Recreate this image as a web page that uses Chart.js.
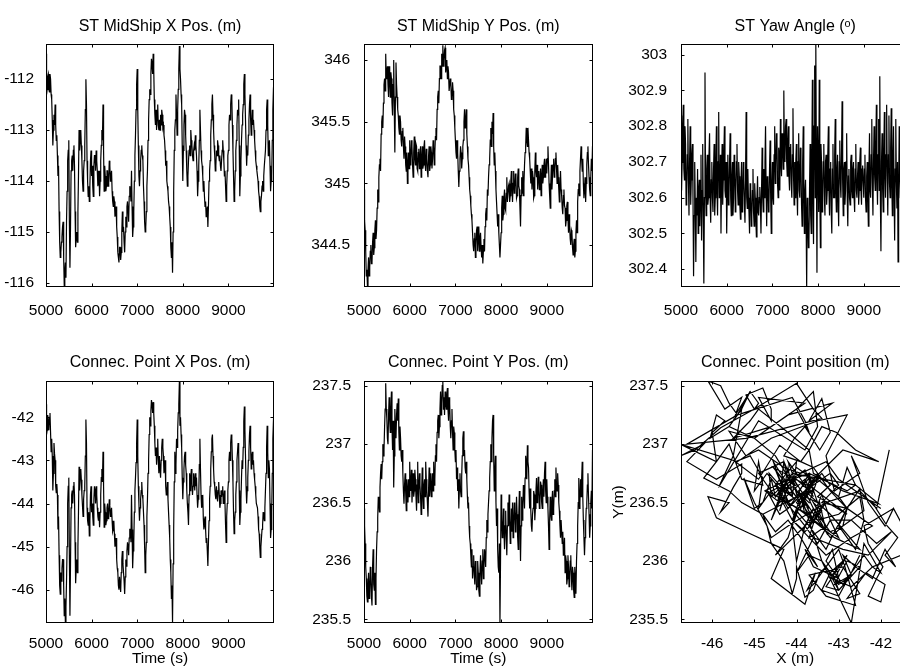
<!DOCTYPE html>
<html>
<head>
<meta charset="utf-8">
<script src="https://cdn.jsdelivr.net/npm/chart.js@4.4.1/dist/chart.umd.min.js"></script>
<style>
  html, body { margin: 0; padding: 0; background: #fff; width: 900px; height: 666px; overflow: hidden; }
  canvas { position: absolute; }
</style>
</head>
<body>
<canvas id="c1" width="300" height="330" style="left:0px;top:0px"></canvas>
<canvas id="c2" width="310" height="330" style="left:304px;top:0px"></canvas>
<canvas id="c3" width="310" height="330" style="left:621px;top:0px"></canvas>
<canvas id="c4" width="300" height="330" style="left:0px;top:340px"></canvas>
<canvas id="c5" width="310" height="330" style="left:304px;top:340px"></canvas>
<canvas id="c6" width="326" height="330" style="left:605px;top:340px"></canvas>
<script>
// Records sampled every 12.5 s from t = 5000 s to t = 10000 s
const T_START = 5000;
const T_STEP = 12.5;

// Ship midship X position (m)
const midShipX = [
  -111.5, -112.3, -112.2, -111.95, -111.9, -112.2, -112.25, -111.9, -112.0, -112.3, -112.4, -112.8, -113.3, -113.0, -112.7, -112.9, -112.5, -112.9, -113.2, -113.1,
  -113.5, -113.9, -113.7, -114.6, -115.2, -115.5, -115.4, -115.2, -115.1, -114.9, -114.8, -115.5, -116.05, -115.8, -115.6, -115.9, -114.8, -114.2, -113.6, -113.4,
  -113.2, -114.8, -115.7, -114.9, -113.8, -113.6, -113.5, -113.8, -113.4, -113.3, -113.7, -114.6, -115.3, -115.1, -115.0, -115.2, -114.6, -113.9, -113.0, -113.4,
  -113.2, -113.0, -113.3, -113.6, -114.0, -114.2, -113.8, -113.6, -113.3, -112.6, -112.0, -112.5, -113.6, -114.0, -114.3, -114.1, -114.4, -114.1, -113.6, -113.4,
  -113.9, -113.7, -114.1, -114.3, -113.7, -113.5, -113.5, -113.8, -113.4, -113.6, -113.8, -114.1, -114.0, -113.8, -114.3, -114.0, -113.6, -113.3, -113.0, -113.2,
  -112.5, -113.4, -114.2, -113.7, -113.9, -114.2, -114.1, -113.8, -113.8, -114.1, -114.0, -113.6, -113.7, -114.0, -113.9, -113.8, -114.2, -114.4, -114.5, -114.3,
  -114.4, -114.7, -114.6, -114.5, -114.9, -115.1, -115.4, -115.5, -115.6, -115.3, -115.3, -115.55, -115.4, -115.0, -114.6, -115.0, -114.9, -115.2, -115.4, -115.0,
  -114.7, -114.9, -114.5, -114.4, -114.6, -114.8, -114.3, -114.1, -114.2, -114.4, -113.8, -114.5, -115.1, -114.9, -114.6, -114.0, -113.5, -113.1, -112.6, -112.1,
  -111.8, -112.6, -113.3, -113.9, -114.1, -113.8, -113.6, -113.4, -113.3, -113.5, -113.6, -114.1, -114.4, -114.8, -115.0, -114.9, -114.6, -114.1, -113.8, -113.2,
  -112.8, -112.4, -112.2, -112.3, -111.9, -111.6, -111.7, -111.9, -111.5, -111.8, -112.4, -112.7, -112.9, -112.6, -113.0, -112.7, -112.5, -112.9, -113.0, -112.8,
  -113.0, -112.7, -112.9, -112.6, -112.7, -112.95, -112.9, -113.1, -113.2, -113.4, -113.7, -113.6, -114.0, -114.1, -114.2, -114.4, -114.5, -114.7, -114.9, -115.3,
  -115.5, -115.2, -115.8, -115.0, -114.2, -113.4, -113.0, -112.8, -112.3, -112.7, -113.1, -112.6, -112.2, -111.8, -111.35, -111.8, -112.0, -112.3, -112.5, -113.3,
  -114.0, -113.4, -112.9, -112.6, -112.7, -113.1, -113.4, -113.8, -114.1, -113.9, -113.6, -113.4, -113.3, -113.5, -113.0, -113.2, -113.3, -113.5, -113.6, -113.4,
  -113.3, -113.4, -113.1, -113.3, -113.5, -113.8, -114.3, -114.0, -113.7, -113.2, -112.6, -113.0, -113.4, -113.6, -113.7, -113.9, -114.2, -114.0, -114.3, -114.5,
  -114.4, -114.7, -114.6, -114.5, -114.9, -114.5, -114.0, -113.8, -113.6, -113.1, -112.8, -112.5, -112.3, -112.7, -113.0, -113.3, -113.5, -113.8, -113.7, -113.4,
  -113.5, -113.2, -113.3, -113.5, -113.6, -113.5, -113.7, -113.8, -113.6, -113.4, -113.2, -113.4, -113.6, -113.9, -113.8, -114.1, -114.4, -114.1, -113.8, -113.5,
  -113.4, -112.9, -112.7, -112.8, -112.5, -112.3, -112.4, -112.9, -113.4, -113.9, -114.4, -114.2, -113.8, -113.4, -113.2, -112.9, -112.6, -112.7, -112.4, -113.3,
  -114.3, -113.9, -113.6, -113.2, -112.9, -112.7, -112.5, -112.1, -111.9, -112.3, -112.8, -113.3, -113.7, -113.4, -113.5, -113.1, -112.8, -112.5, -112.3, -112.8,
  -113.1, -112.8, -112.6, -112.9, -112.8, -113.0, -113.2, -113.4, -113.6, -113.7, -113.8, -113.9, -114.0, -114.2, -114.3, -114.5, -114.6, -114.4, -114.3, -114.1,
  -114.0, -114.2, -113.9, -113.7, -113.7, -113.4, -113.0, -112.6, -112.4, -112.9, -113.5, -113.3, -113.2, -113.7, -114.2, -114.0, -113.9, -113.2, -112.6, -112.2,
  -112.0
];

// Ship midship Y position (m)
const midShipY = [
  344.95, 344.7, 344.62, 344.45, 344.25, 344.3, 344.17, 344.3, 344.4, 344.25, 344.32, 344.45, 344.5, 344.35, 344.36, 344.52, 344.6, 344.42, 344.48, 344.62,
  344.7, 344.55, 344.62, 344.8, 344.95, 344.85, 345.05, 345.15, 345.2, 345.1, 345.4, 345.5, 345.55, 345.45, 345.65, 345.8, 345.85, 345.75, 346.05, 345.85,
  345.9, 345.95, 345.8, 345.7, 345.95, 345.85, 345.7, 345.9, 345.85, 345.65, 345.55, 345.8, 346.0, 345.6, 345.25, 345.7, 345.98, 345.8, 345.7, 345.6,
  345.55, 345.45, 345.4, 345.55, 345.5, 345.35, 345.3, 345.42, 345.45, 345.3, 345.2, 345.38, 345.3, 345.15, 345.1, 345.25, 345.0, 345.15, 345.25, 345.12,
  345.35, 345.15, 345.2, 345.35, 345.3, 345.15, 345.05, 345.25, 345.38, 345.2, 345.15, 345.32, 345.3, 345.12, 345.1, 345.25, 345.28, 345.12, 345.2, 345.3,
  345.05, 345.2, 345.3, 345.12, 345.15, 345.3, 345.35, 345.15, 345.1, 345.28, 345.2, 345.1, 345.05, 345.22, 345.3, 345.1, 345.15, 345.3, 345.25, 345.12,
  345.2, 345.35, 345.3, 345.15, 345.25, 345.38, 345.45, 345.35, 345.6, 345.7, 345.75, 345.65, 345.85, 345.95, 345.95, 345.85, 346.05, 345.95, 346.12, 345.95,
  346.0, 346.08, 346.1, 345.9, 345.95, 346.0, 345.85, 345.95, 345.9, 345.75, 345.75, 345.85, 345.8, 345.68, 345.7, 345.82, 345.75, 345.6, 345.55, 345.45,
  345.35, 345.25, 345.2, 345.35, 345.25, 345.1, 344.97, 345.1, 345.2, 345.3, 345.25, 345.12, 345.2, 345.3, 345.35, 345.5, 345.6, 345.45, 345.5, 345.6,
  345.4, 345.3, 345.2, 345.15, 345.05, 344.95, 344.9, 344.82, 344.75, 344.7, 344.6, 344.5, 344.45, 344.55, 344.6, 344.4, 344.5, 344.62, 344.65, 344.45,
  344.55, 344.65, 344.45, 344.55, 344.6, 344.48, 344.4, 344.5, 344.35, 344.45, 344.55, 344.45, 344.65, 344.75, 344.8, 344.7, 344.95, 344.9, 345.05, 345.15,
  345.2, 345.35, 345.45, 345.3, 345.5, 345.4, 345.57, 345.3, 345.15, 345.25, 345.1, 344.95, 344.85, 344.75, 344.65, 344.75, 344.6, 344.5, 344.4, 344.5,
  344.6, 344.8, 344.9, 344.7, 344.75, 344.88, 344.95, 344.8, 344.78, 344.92, 345.05, 344.85, 344.85, 344.98, 345.0, 344.85, 344.9, 345.02, 345.1, 344.95,
  344.85, 345.0, 345.1, 344.92, 344.95, 345.08, 345.05, 344.88, 344.9, 345.05, 345.12, 344.98, 344.95, 344.8, 344.65, 344.9, 345.05, 344.92, 345.1, 344.9,
  345.0, 345.15, 345.25, 345.3, 345.45, 345.35, 345.3, 345.45, 345.35, 345.25, 345.2, 345.1, 345.0, 345.12, 344.95, 345.1, 345.05, 344.88, 344.9, 345.1,
  345.25, 345.1, 345.05, 345.15, 344.95, 345.05, 345.1, 344.95, 345.0, 345.12, 344.9, 345.05, 345.15, 345.0, 345.05, 345.15, 345.2, 345.05, 345.1, 345.2,
  345.08, 345.2, 345.3, 345.15, 345.0, 344.9, 344.8, 345.0, 345.15, 344.95, 345.05, 345.15, 345.2, 345.05, 345.1, 345.2, 345.25, 345.12, 345.0, 345.15,
  345.05, 344.95, 344.85, 344.98, 345.1, 344.95, 344.9, 344.8, 344.75, 344.9, 344.95, 344.82, 344.8, 344.65, 344.7, 344.82, 344.85, 344.72, 344.6, 344.75,
  344.65, 344.55, 344.5, 344.62, 344.6, 344.48, 344.42, 344.5, 344.55, 344.4, 344.45, 344.6, 344.7, 344.6, 344.85, 344.95, 345.0, 344.9, 345.1, 345.2,
  345.3, 345.2, 345.1, 345.2, 345.0, 344.88, 344.95, 345.05, 344.85, 345.0, 345.15, 345.25, 345.3, 345.15, 345.05, 344.95, 344.9, 345.05, 345.2, 345.1,
  345.3
];

// Ship yaw angle (degrees)
const yawAngle = [
  302.83, 302.62, 302.7, 302.8, 302.86, 302.68, 302.65, 302.8, 302.75, 302.58, 302.6, 302.72, 302.82, 302.65, 302.55, 302.7, 302.8, 302.58, 302.65, 302.72,
  302.75, 302.6, 302.38, 302.55, 302.7, 302.58, 302.42, 302.6, 302.55, 302.68, 302.5, 302.62, 302.65, 302.52, 302.6, 302.72, 302.48, 302.62, 302.75, 302.55,
  302.36, 302.6, 302.95, 302.62, 302.55, 302.68, 302.72, 302.58, 302.6, 302.72, 302.78, 302.6, 302.53, 302.65, 302.7, 302.6, 302.56, 302.68, 302.75, 302.55,
  302.6, 302.7, 302.8, 302.62, 302.55, 302.7, 302.84, 302.6, 302.62, 302.72, 302.5, 302.65, 302.75, 302.58, 302.65, 302.72, 302.8, 302.62, 302.6, 302.7,
  302.5, 302.62, 302.72, 302.58, 302.6, 302.7, 302.78, 302.6, 302.55, 302.66, 302.7, 302.55, 302.6, 302.72, 302.68, 302.56, 302.62, 302.7, 302.75, 302.62,
  302.58, 302.7, 302.66, 302.58, 302.54, 302.64, 302.7, 302.56, 302.6, 302.7, 302.65, 302.58, 302.53, 302.66, 302.84, 302.6, 302.57, 302.68, 302.6, 302.56,
  302.5, 302.64, 302.62, 302.52, 302.55, 302.62, 302.68, 302.56, 302.52, 302.64, 302.6, 302.54, 302.49, 302.6, 302.66, 302.56, 302.55, 302.6, 302.63, 302.58,
  302.5, 302.62, 302.74, 302.6, 302.56, 302.68, 302.6, 302.7, 302.8, 302.62, 302.52, 302.66, 302.65, 302.56, 302.58, 302.68, 302.76, 302.6, 302.5, 302.64,
  302.7, 302.6, 302.58, 302.72, 302.8, 302.64, 302.68, 302.78, 302.76, 302.64, 302.6, 302.74, 302.72, 302.62, 302.82, 302.7, 302.66, 302.78, 302.75, 302.68,
  302.9, 302.72, 302.7, 302.8, 302.82, 302.7, 302.66, 302.76, 302.8, 302.66, 302.62, 302.74, 302.75, 302.64, 302.6, 302.72, 302.85, 302.66, 302.58, 302.7,
  302.6, 302.7, 302.75, 302.62, 302.55, 302.7, 302.78, 302.62, 302.6, 302.74, 302.7, 302.58, 302.52, 302.7, 302.8, 302.6, 302.5, 302.62, 302.65, 302.55,
  302.35, 302.6, 302.55, 302.46, 302.48, 302.62, 302.75, 302.55, 302.5, 302.7, 302.93, 302.6, 302.47, 302.8, 302.97, 302.6, 303.03, 302.7, 302.39, 302.8,
  302.7, 302.56, 302.93, 302.62, 302.46, 302.75, 302.7, 302.56, 302.6, 302.7, 302.75, 302.6, 302.55, 302.7, 302.72, 302.58, 302.62, 302.72, 302.8, 302.62,
  302.55, 302.68, 302.7, 302.56, 302.5, 302.68, 302.75, 302.6, 302.6, 302.72, 302.82, 302.62, 302.56, 302.68, 302.72, 302.6, 302.52, 302.7, 302.76, 302.64,
  302.6, 302.72, 302.87, 302.64, 302.55, 302.68, 302.7, 302.58, 302.62, 302.7, 302.78, 302.6, 302.52, 302.66, 302.68, 302.6, 302.58, 302.7, 302.72, 302.62,
  302.6, 302.68, 302.7, 302.6, 302.56, 302.68, 302.75, 302.62, 302.6, 302.66, 302.7, 302.58, 302.62, 302.7, 302.74, 302.62, 302.58, 302.68, 302.69, 302.64,
  302.6, 302.68, 302.72, 302.6, 302.56, 302.66, 302.7, 302.6, 302.52, 302.68, 302.78, 302.62, 302.6, 302.72, 302.82, 302.64, 302.55, 302.7, 302.8, 302.66,
  302.62, 302.74, 302.86, 302.66, 302.58, 302.72, 302.82, 302.62, 302.94, 302.6, 302.45, 302.7, 302.78, 302.62, 302.56, 302.72, 302.84, 302.66, 302.6, 302.72,
  302.86, 302.66, 302.55, 302.72, 302.83, 302.64, 302.6, 302.74, 302.85, 302.64, 302.55, 302.72, 302.8, 302.62, 302.48, 302.68, 302.82, 302.64, 302.57, 302.7,
  302.42, 302.62, 302.8, 302.66, 302.6, 302.7, 302.75, 302.62, 302.55, 302.68, 302.7, 302.6, 302.6, 302.7, 302.78, 302.64, 302.58, 302.68, 302.72, 302.6,
  302.65
];

// Connection point X position (m)
const connX = [
  -41.7, -42.4, -42.3, -41.95, -42.1, -42.3, -42.0, -41.9, -42.35, -42.8, -42.5, -42.9, -43.7, -43.3, -42.6, -42.85, -43.0, -43.6, -43.75, -43.55,
  -43.8, -44.6, -44.3, -45.2, -45.9, -46.1, -45.6, -45.8, -45.5, -45.3, -45.3, -45.9, -46.6, -46.2, -46.75, -46.4, -45.8, -45.0, -44.0, -43.6,
  -43.4, -45.2, -46.6, -45.4, -44.1, -43.8, -43.7, -44.0, -43.6, -43.5, -43.8, -44.9, -45.85, -45.5, -45.3, -45.6, -45.0, -44.2, -43.15, -43.7,
  -43.4, -43.2, -43.45, -43.8, -44.05, -44.3, -43.9, -43.7, -43.6, -42.9, -42.05, -42.6, -44.1, -44.4, -44.5, -44.2, -44.75, -44.4, -43.8, -43.6,
  -44.2, -44.0, -44.3, -44.5, -43.9, -43.6, -43.7, -44.0, -43.6, -43.8, -44.1, -44.3, -44.4, -44.2, -44.55, -44.2, -43.8, -43.4, -43.2, -43.5,
  -42.8, -43.6, -44.55, -44.0, -44.2, -44.5, -44.4, -44.1, -44.0, -44.35, -44.3, -43.9, -44.05, -44.3, -44.2, -44.1, -44.4, -44.65, -44.6, -44.4,
  -44.7, -45.0, -44.9, -44.8, -45.3, -45.5, -45.6, -45.9, -46.0, -45.7, -45.9, -46.05, -45.6, -45.3, -45.1, -45.4, -45.6, -45.8, -46.1, -45.7,
  -45.3, -45.45, -45.1, -44.9, -45.0, -45.2, -44.8, -44.6, -44.6, -44.9, -43.8, -44.6, -45.5, -45.1, -44.9, -44.2, -43.7, -43.4, -43.05, -42.6,
  -42.05, -42.9, -43.6, -44.0, -44.4, -44.1, -43.9, -43.7, -43.5, -43.8, -43.9, -44.2, -44.5, -45.0, -45.6, -45.2, -44.9, -44.3, -43.9, -43.3,
  -43.0, -42.4, -42.0, -42.2, -41.85, -41.6, -41.7, -41.9, -41.65, -41.9, -42.2, -42.6, -42.9, -42.7, -43.1, -42.8, -42.5, -43.0, -43.3, -42.9,
  -43.2, -43.4, -43.0, -42.7, -42.5, -42.7, -42.9, -43.3, -43.15, -43.0, -43.6, -43.8, -43.7, -43.5, -43.9, -44.2, -44.5, -44.8, -45.3, -45.6,
  -46.2, -45.9, -46.76, -45.4, -44.6, -43.5, -42.8, -43.3, -43.1, -42.5, -42.7, -42.3, -41.9, -41.7, -41.18, -42.2, -42.0, -42.4, -42.7, -43.4,
  -43.9, -43.5, -43.2, -42.9, -42.8, -43.1, -43.3, -43.7, -44.0, -44.2, -44.5, -43.8, -43.3, -43.7, -43.4, -43.2, -43.5, -43.8, -43.6, -43.3,
  -43.45, -43.7, -43.3, -43.6, -43.4, -43.8, -44.1, -43.9, -43.8, -43.1, -42.5, -43.2, -43.8, -44.1, -44.0, -43.8, -44.35, -44.6, -44.5, -44.3,
  -44.6, -44.9, -44.8, -45.1, -45.45, -44.9, -44.4, -43.9, -43.6, -43.2, -42.8, -42.5, -42.4, -42.9, -43.2, -43.5, -43.6, -43.8, -43.9, -43.6,
  -43.8, -43.95, -43.7, -43.5, -43.8, -44.1, -44.0, -43.7, -43.85, -43.7, -43.6, -44.0, -43.9, -43.7, -44.0, -44.5, -44.9, -44.3, -44.0, -43.7,
  -43.5, -43.0, -42.8, -43.0, -42.6, -42.4, -42.5, -43.0, -43.5, -44.2, -44.7, -44.4, -44.2, -43.8, -43.5, -43.0, -42.8, -42.6, -42.8, -43.7,
  -44.5, -44.2, -43.9, -43.4, -43.0, -43.2, -42.7, -42.1, -41.75, -42.3, -42.9, -43.6, -44.0, -43.7, -43.4, -43.0, -42.8, -42.4, -42.2, -42.7,
  -43.2, -42.9, -42.8, -43.1, -43.0, -43.3, -43.45, -43.6, -43.8, -44.0, -44.0, -44.1, -44.3, -44.6, -44.7, -45.0, -45.25, -45.0, -44.8, -44.6,
  -44.5, -44.2, -44.3, -44.4, -44.1, -43.7, -43.3, -42.7, -42.2, -42.8, -43.4, -43.0, -43.2, -44.0, -44.8, -44.6, -44.2, -43.3, -42.5, -42.1,
  -41.8
];

// Connection point Y position (m)
const connY = [
  236.45, 236.3, 236.15, 235.95, 235.85, 235.7, 235.65, 235.8, 235.9, 235.68, 235.72, 235.95, 235.88, 235.7, 235.62, 235.95, 236.1, 235.8, 235.75, 235.9,
  235.63, 235.85, 236.1, 236.25, 236.37, 236.55, 236.5, 236.42, 236.63, 236.75, 236.83, 236.7, 236.85, 237.0, 236.9, 236.95, 237.14, 237.3, 237.52, 237.3,
  237.22, 237.05, 237.0, 237.25, 237.4, 237.2, 237.1, 237.3, 237.45, 237.15, 236.95, 237.2, 236.63, 236.9, 237.3, 237.15, 237.05, 237.25, 237.35, 237.2,
  237.39, 237.1, 236.95, 237.15, 237.05, 236.9, 236.85, 236.95, 236.75, 236.6, 236.49, 236.65, 236.75, 236.58, 236.43, 236.7, 236.6, 236.5, 236.7, 236.55,
  236.85, 236.65, 236.6, 236.78, 236.5, 236.62, 236.75, 236.55, 236.6, 236.78, 236.7, 236.55, 236.43, 236.65, 236.85, 236.5, 236.6, 236.75, 236.65, 236.55,
  236.4, 236.62, 236.8, 236.55, 236.45, 236.65, 236.7, 236.55, 236.85, 236.7, 236.6, 236.5, 236.38, 236.6, 236.8, 236.55, 236.65, 236.75, 236.55, 236.62,
  236.75, 236.6, 236.85, 236.65, 236.7, 236.9, 237.0, 236.85, 237.1, 237.2, 237.25, 237.05, 237.15, 237.3, 237.45, 237.25, 237.35, 237.5, 237.54, 237.3,
  237.4, 237.25, 237.45, 237.35, 237.3, 237.42, 237.48, 237.3, 237.2, 237.4, 237.35, 237.15, 237.05, 237.2, 237.3, 237.1, 236.95, 237.15, 237.1, 236.95,
  236.85, 236.95, 236.7, 236.8, 236.6, 236.7, 236.45, 236.62, 236.75, 236.6, 236.55, 236.72, 236.9, 237.05, 237.11, 236.9, 236.95, 236.8, 236.75, 236.85,
  236.7, 236.55, 236.45, 236.5, 236.3, 236.2, 236.15, 236.05, 235.95, 236.1, 235.85, 235.95, 236.05, 235.88, 235.8, 236.0, 235.95, 235.75, 235.78, 236.0,
  235.9, 235.75, 235.7, 235.9, 236.05, 235.9, 235.8, 236.0, 236.1, 235.85, 235.95, 236.1, 236.05, 235.95, 236.2, 236.35, 236.25, 236.4, 236.5, 236.6,
  236.71, 236.85, 237.0, 236.85, 237.05, 237.2, 237.25, 236.9, 236.6, 236.75, 236.9, 236.5, 236.3, 236.45, 236.1, 235.95, 235.9, 236.15, 235.47, 236.0,
  236.57, 236.35, 236.2, 236.3, 236.45, 236.25, 236.1, 236.3, 236.43, 236.2, 236.05, 236.3, 236.5, 236.3, 236.57, 236.35, 236.15, 236.3, 236.45, 236.25,
  236.5, 236.2, 236.3, 236.5, 236.43, 236.25, 236.35, 236.55, 236.4, 236.2, 236.1, 236.4, 236.6, 236.3, 236.0, 236.3, 236.55, 236.35, 236.45, 236.65,
  236.6, 236.45, 236.71, 236.9, 236.85, 236.7, 236.99, 236.85, 236.8, 236.6, 236.45, 236.62, 236.43, 236.3, 236.25, 236.4, 236.45, 236.6, 236.57, 236.35,
  236.45, 236.6, 236.71, 236.5, 236.55, 236.72, 236.6, 236.45, 236.5, 236.68, 236.65, 236.5, 236.45, 236.6, 236.7, 236.55, 236.75, 236.85, 236.6, 236.5,
  236.7, 236.55, 236.45, 236.3, 236.1, 236.35, 236.55, 236.4, 236.35, 236.5, 236.6, 236.4, 236.45, 236.6, 236.7, 236.55, 236.8, 236.65, 236.6, 236.75,
  236.65, 236.5, 236.43, 236.3, 236.2, 236.35, 236.35, 236.15, 236.25, 236.05, 236.1, 236.2, 235.9, 236.05, 236.0, 235.8, 235.85, 236.05, 235.95, 235.78,
  235.86, 236.0, 236.05, 235.85, 235.75, 235.95, 235.9, 235.75, 235.69, 235.95, 235.85, 235.72, 236.0, 236.15, 236.3, 236.5, 236.71, 236.45, 236.5, 236.7,
  236.55, 236.7, 236.85, 236.55, 236.35, 236.2, 236.05, 236.2, 236.3, 236.45, 236.5, 236.65, 236.75, 236.55, 236.4, 236.2, 236.3, 236.5, 236.6, 236.45,
  236.95
];

// Tick labels
const timeTicks  = [5000, 6000, 7000, 8000, 9000];
const midXTicks  = [-116, -115, -114, -113, -112];
const midYTicks  = [344.5, 345, 345.5, 346];
const yawTicks   = [302.4, 302.5, 302.6, 302.7, 302.8, 302.9, 303];
const connXTicks = [-46, -45, -44, -43, -42];
const connYTicks = [235.5, 236, 236.5, 237, 237.5];

const time = midShipX.map((_, i) => T_START + i * T_STEP);

const FONT = "'Liberation Sans', Arial, Helvetica, sans-serif";
Chart.defaults.font.family = FONT;
Chart.defaults.color = '#000';

// Axes box with small inward tick marks on all four sides
const boxAndTicks = {
  id: 'boxAndTicks',
  afterDatasetsDraw(chart) {
    const { ctx, chartArea: a, scales } = chart;
    const len = 3;
    ctx.save();
    ctx.strokeStyle = '#000';
    ctx.lineWidth = 1;
    const L = Math.round(a.left) + 0.5, R = Math.round(a.right) - 0.5;
    const T = Math.round(a.top) + 0.5, B = Math.round(a.bottom) - 0.5;
    ctx.beginPath();
    scales.x.ticks.forEach(t => {
      const p = Math.round(scales.x.getPixelForValue(t.value)) + 0.5;
      ctx.moveTo(p, B); ctx.lineTo(p, B - len);
      ctx.moveTo(p, T); ctx.lineTo(p, T + len);
    });
    scales.y.ticks.forEach(t => {
      const p = Math.round(scales.y.getPixelForValue(t.value)) + 0.5;
      ctx.moveTo(L, p); ctx.lineTo(L + len, p);
      ctx.moveTo(R, p); ctx.lineTo(R - len, p);
    });
    ctx.stroke();
    ctx.strokeRect(L, T, R - L, B - T);
    ctx.restore();
  }
};

function axis(range, tickValues, fixedSize, horizontal, tickPad, titleText, titlePad) {
  return {
    type: 'linear',
    min: range[0],
    max: range[1],
    grid: { display: false },
    border: { display: false },
    afterBuildTicks: s => { s.ticks = tickValues.map(v => ({ value: v })); },
    afterFit: s => { if (horizontal) s.height = fixedSize; else s.width = fixedSize; },
    ticks: {
      autoSkip: false,
      maxRotation: 0,
      padding: tickPad,
      font: { size: 15.5 },
      callback: v => String(v)
    },
    title: titleText ? {
      display: true,
      text: titleText,
      font: { size: 15.5 },
      padding: titlePad
    } : { display: false }
  };
}

function panel(id, cfg) {
  const pts = cfg.xs.map((x, i) => ({ x: x, y: cfg.ys[i] }));
  new Chart(document.getElementById(id), {
    type: cfg.type,
    data: {
      datasets: [{
        data: pts,
        showLine: true,
        borderColor: '#000',
        borderWidth: 1.2,
        pointRadius: 0,
        tension: 0,
        fill: false,
        clip: 0
      }]
    },
    options: {
      responsive: false,
      animation: false,
      events: [],
      layout: { padding: { left: 0, right: cfg.padRight, top: 0, bottom: 0 } },
      plugins: {
        legend: { display: false },
        tooltip: { enabled: false },
        title: {
          display: true,
          text: cfg.title,
          fullSize: false,
          color: '#000',
          font: { size: 16, weight: 'normal' },
          padding: cfg.titlePad
        }
      },
      scales: {
        x: axis(cfg.xRange, cfg.xTicks, cfg.xHeight, true, cfg.xTickPad, cfg.xTitle, { top: 0, bottom: 1.7 }),
        y: axis(cfg.yRange, cfg.yTicks, cfg.yWidth, false, cfg.yTickPad, cfg.yTitle, { top: 4.7, bottom: 0 })
      }
    },
    plugins: [boxAndTicks]
  });
}

const topTitlePad = { top: 17.4, bottom: 7.4 };
const lowTitlePad = { top: 13.4, bottom: 8.4 };

panel('c1', {
  type: 'line', title: 'ST MidShip X Pos. (m)', xs: time, ys: midShipX,
  xRange: [5000, 10000], yRange: [-116.08, -111.31], xTicks: timeTicks, yTicks: midXTicks,
  yWidth: 46, xHeight: 43, padRight: 26, xTickPad: 6, yTickPad: 4, titlePad: topTitlePad
});
panel('c2', {
  type: 'line', title: 'ST MidShip Y Pos. (m)', xs: time, ys: midShipY,
  xRange: [5000, 10000], yRange: [344.16, 346.13], xTicks: timeTicks, yTicks: midYTicks,
  yWidth: 60, xHeight: 43, padRight: 21.5, xTickPad: 6, yTickPad: 6, titlePad: topTitlePad
});
panel('c3', {
  type: 'line', title: 'ST Yaw Angle (\u1D52)', xs: time, ys: yawAngle,
  xRange: [5000, 10000], yRange: [302.35, 303.03], xTicks: timeTicks, yTicks: yawTicks,
  yWidth: 60, xHeight: 43, padRight: 21.5, xTickPad: 6, yTickPad: 6, titlePad: topTitlePad
});
panel('c4', {
  type: 'line', title: 'Connec. Point X Pos. (m)', xs: time, ys: connX,
  xRange: [5000, 10000], yRange: [-46.77, -41.16], xTicks: timeTicks, yTicks: connXTicks,
  yWidth: 46, xHeight: 47, padRight: 26, xTickPad: 3, yTickPad: 4, titlePad: lowTitlePad,
  xTitle: 'Time (s)'
});
panel('c5', {
  type: 'line', title: 'Connec. Point Y Pos. (m)', xs: time, ys: connY,
  xRange: [5000, 10000], yRange: [235.47, 237.54], xTicks: timeTicks, yTicks: connYTicks,
  yWidth: 60, xHeight: 47, padRight: 21.5, xTickPad: 3, yTickPad: 5, titlePad: lowTitlePad,
  xTitle: 'Time (s)'
});
panel('c6', {
  type: 'scatter', title: 'Connec. Point position (m)', xs: connX, ys: connY,
  xRange: [-46.74, -41.32], yRange: [235.47, 237.54], xTicks: connXTicks, yTicks: connYTicks,
  yWidth: 76, xHeight: 47, padRight: 21.5, xTickPad: 3, yTickPad: 5, titlePad: lowTitlePad,
  xTitle: 'X (m)', yTitle: 'Y(m)'
});
</script>
</body>
</html>
